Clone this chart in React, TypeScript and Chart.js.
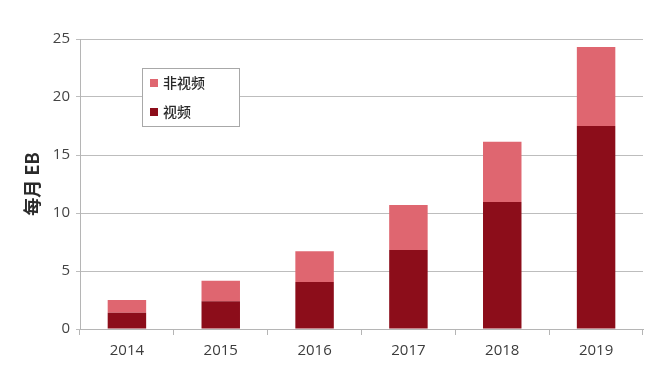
import React, { useEffect, useRef } from "react";
import { Chart, registerables } from "chart.js";

Chart.register(...registerables);

const categories = ["2014", "2015", "2016", "2017", "2018", "2019"];
const videoValues = [1.4, 2.4, 4.05, 6.8, 10.95, 17.5];
const nonVideoValues = [1.1, 1.75, 2.65, 3.9, 5.2, 6.8];
const yTicks = [0, 5, 10, 15, 20, 25];
const seriesLabels = ["非视频", "视频"];
const yTitle = "每月 EB";

const DARK = "#8c0d1a";
const LIGHT = "#df6670";

const legendPlugin = {
  id: "boxLegend",
  afterDraw(chart: any) {
    const ctx = chart.ctx;
    const x = 142, y = 68, w = 97, h = 58;
    ctx.save();
    ctx.fillStyle = "#ffffff";
    ctx.fillRect(x, y, w, h);
    ctx.strokeStyle = "#a8a8a8";
    ctx.lineWidth = 1;
    ctx.strokeRect(x + 0.5, y + 0.5, w, h);
    const items = [
      { label: seriesLabels[0], color: LIGHT, cy: 83 },
      { label: seriesLabels[1], color: DARK, cy: 112 },
    ];
    ctx.font = "500 14px 'Noto Sans CJK SC', 'Noto Sans', sans-serif";
    ctx.textBaseline = "middle";
    ctx.textAlign = "left";
    for (const it of items) {
      ctx.fillStyle = it.color;
      ctx.fillRect(150, it.cy - 4, 8, 8);
      ctx.fillStyle = "#2a2a2a";
      ctx.fillText(it.label, 163, it.cy);
    }
    ctx.restore();
  },
};

export default function App() {
  const ref = useRef<HTMLCanvasElement | null>(null);
  useEffect(() => {
    document.body.style.margin = "0";
    if (!ref.current) return;
    const chart = new Chart(ref.current, {
      type: "bar",
      data: {
        labels: categories,
        datasets: [
          {
            label: seriesLabels[1],
            data: videoValues,
            backgroundColor: DARK,
            categoryPercentage: 1,
            barPercentage: 0.41,
            stack: "s",
          },
          {
            label: seriesLabels[0],
            data: nonVideoValues,
            backgroundColor: LIGHT,
            categoryPercentage: 1,
            barPercentage: 0.41,
            stack: "s",
          },
        ],
      },
      options: {
        animation: false,
        responsive: false,
        layout: { padding: { top: 39, right: 20, left: 0, bottom: 0 } },
        plugins: { legend: { display: false }, tooltip: { enabled: false } },
        scales: {
          x: {
            stacked: true,
            offset: true,
            grid: {
              display: true,
              offset: true,
              drawOnChartArea: false,
              drawTicks: true,
              tickLength: 6,
              color: "#b5b5b5",
            },
            border: { display: true, color: "#b5b5b5" },
            ticks: {
              color: "#3c3c3c",
              font: { family: "'Open Sans', sans-serif", size: 15 },
              padding: 7,
            },
            afterFit(scale: any) {
              scale.height = 50;
            },
          },
          y: {
            stacked: true,
            min: 0,
            max: 25,
            afterBuildTicks(scale: any) {
              scale.ticks = yTicks.map((v) => ({ value: v }));
            },
            grid: {
              color: "#bdbdbd",
              drawTicks: true,
              tickLength: 4,
            },
            border: { display: true, color: "#b5b5b5" },
            ticks: {
              color: "#444444",
              font: { family: "'Open Sans', sans-serif", size: 15 },
              padding: 6,
            },
            title: {
              display: true,
              text: yTitle,
              color: "#2a2a2a",
              font: { family: "'Noto Sans CJK SC', sans-serif", size: 18, weight: "bold" },
              padding: { top: 21, bottom: 0 },
            },
            afterFit(scale: any) {
              scale.width = 80;
            },
          },
        },
      },
      plugins: [legendPlugin],
    });
    return () => chart.destroy();
  }, []);
  return (
    <div style={{ width: 663, height: 379, background: "#fff" }}>
      <canvas ref={ref} width={663} height={379} />
    </div>
  );
}
